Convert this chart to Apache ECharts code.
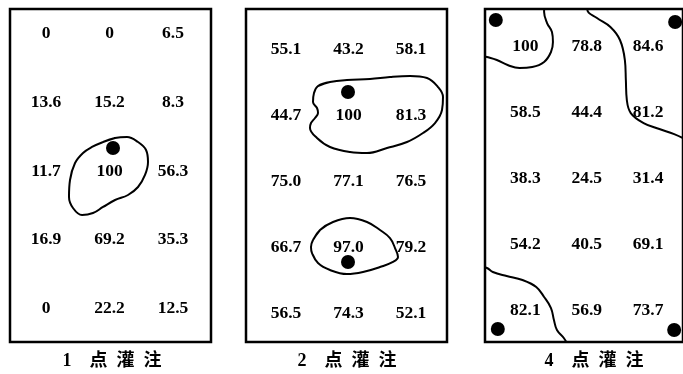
<!DOCTYPE html>
<html>
<head>
<meta charset="utf-8">
<script src="https://cdn.jsdelivr.net/npm/echarts/dist/echarts.min.js"></script>
<style>
  html, body { margin: 0; padding: 0; background: #fff; }
  #chart { width: 683px; height: 374px; }
</style>
</head>
<body>
<div id="chart"></div>
<script>
// Values printed in each 5 x 3 cell layout, listed row by row from the top.
const onePointValues = [
  ['0', '0', '6.5'],
  ['13.6', '15.2', '8.3'],
  ['11.7', '100', '56.3'],
  ['16.9', '69.2', '35.3'],
  ['0', '22.2', '12.5']
];
const twoPointValues = [
  ['55.1', '43.2', '58.1'],
  ['44.7', '100', '81.3'],
  ['75.0', '77.1', '76.5'],
  ['66.7', '97.0', '79.2'],
  ['56.5', '74.3', '52.1']
];
const fourPointValues = [
  ['100', '78.8', '84.6'],
  ['58.5', '44.4', '81.2'],
  ['38.3', '24.5', '31.4'],
  ['54.2', '40.5', '69.1'],
  ['82.1', '56.9', '73.7']
];

const captions = ['1 点灌注', '2 点灌注', '4 点灌注'];

// Gate locations, in cell units [column, row].
const onePointGates = [[1.055, 1.695]];
const twoPointGates = [[0.992, 0.672], [0.992, 3.255]];
const fourPointGates = [[-0.482, -0.366], [2.440, -0.336], [-0.449, 4.309], [2.424, 4.324]];

// Iso-lines, in cell units [column, row].
const onePointLoop = [
  [0.898, 1.608], [1.087, 1.549], [1.276, 1.535], [1.449, 1.608], [1.575, 1.724],
  [1.606, 1.898], [1.559, 2.087], [1.449, 2.262], [1.291, 2.378], [1.087, 2.451],
  [0.898, 2.552], [0.740, 2.640], [0.567, 2.669], [0.425, 2.567], [0.362, 2.407],
  [0.378, 2.160], [0.457, 1.913], [0.583, 1.767], [0.724, 1.680]
];
const twoPointUpperLoop = [
  [0.512, 0.581], [0.704, 0.520], [0.976, 0.489], [1.344, 0.474], [1.664, 0.444],
  [1.984, 0.429], [2.256, 0.459], [2.432, 0.596], [2.512, 0.748], [2.496, 0.945],
  [2.384, 1.143], [2.192, 1.295], [1.936, 1.432], [1.616, 1.523], [1.296, 1.599],
  [1.024, 1.584], [0.704, 1.508], [0.496, 1.371], [0.384, 1.219], [0.400, 1.143],
  [0.464, 1.067], [0.512, 0.991], [0.496, 0.915], [0.432, 0.824], [0.448, 0.687]
];
const twoPointLowerLoop = [
  [0.432, 2.921], [0.544, 2.769], [0.752, 2.647], [1.024, 2.587], [1.296, 2.647],
  [1.504, 2.769], [1.664, 2.891], [1.744, 3.043], [1.792, 3.179], [1.712, 3.255],
  [1.504, 3.331], [1.232, 3.407], [0.976, 3.438], [0.704, 3.377], [0.512, 3.271],
  [0.416, 3.119], [0.400, 3.027]
];
const fourPointTopLeft = [
  [0.305, -0.60], [0.305, -0.487], [0.353, -0.321], [0.433, -0.185], [0.449, -0.033],
  [0.417, 0.118], [0.305, 0.269], [0.112, 0.345], [-0.096, 0.360], [-0.289, 0.315],
  [-0.465, 0.239], [-0.626, 0.194], [-0.70, 0.178]
];
const fourPointTopRight = [
  [1.010, -0.60], [1.010, -0.517], [1.166, -0.396], [1.385, -0.260], [1.541, -0.064],
  [1.621, 0.239], [1.637, 0.542], [1.653, 0.844], [1.717, 1.041], [1.926, 1.192],
  [2.183, 1.283], [2.424, 1.359], [2.632, 1.449]
];
const fourPointBottomLeft = [
  [-0.738, 3.370], [-0.626, 3.385], [-0.530, 3.446], [-0.305, 3.507], [-0.048, 3.567],
  [0.177, 3.673], [0.305, 3.824], [0.417, 3.991], [0.465, 4.172], [0.514, 4.324],
  [0.626, 4.445], [0.706, 4.570]
];

// Frame boxes (px) and the cell-unit extents each frame spans.
const frames = [
  { left: 10,  top: 9, width: 201, height: 333, x: [-0.567, 2.598], y: [-0.326, 4.515], captionX: 112 },
  { left: 246, top: 9, width: 201, height: 333, x: [-0.640, 2.576], y: [-0.590, 4.471], captionX: 347 },
  { left: 485, top: 9, width: 201, height: 333, x: [-0.658, 2.568], y: [-0.533, 4.505], captionX: 594 }
];

const panels = [
  { values: onePointValues,  gates: onePointGates,  lines: [[...onePointLoop, onePointLoop[0], onePointLoop[1]]] },
  { values: twoPointValues,  gates: twoPointGates,  lines: [
      [...twoPointUpperLoop, twoPointUpperLoop[0], twoPointUpperLoop[1]],
      [...twoPointLowerLoop, twoPointLowerLoop[0], twoPointLowerLoop[1]]
    ] },
  { values: fourPointValues, gates: fourPointGates, lines: [fourPointTopLeft, fourPointTopRight, fourPointBottomLeft] }
];

const numberFont = {
  fontFamily: '"Liberation Serif", "DejaVu Serif", serif',
  fontWeight: 'bold',
  fontSize: 17.5,
  color: '#000',
  opacity: 1,
  offset: [0, 2]
};

// "1 点灌注" -> "1  点 灌 注" with wide spacing between characters
function spaced(text) {
  const [num, word] = text.split(' ');
  return num + '\u2003' + word.split('').join('\u2002');
}

const grid = [], xAxis = [], yAxis = [], series = [], graphic = [];

frames.forEach((f, i) => {
  grid.push({
    left: f.left, top: f.top, width: f.width, height: f.height,
    show: true, borderColor: '#000', borderWidth: 2.5, backgroundColor: 'transparent'
  });
  xAxis.push({ gridIndex: i, type: 'value', min: f.x[0], max: f.x[1], show: false });
  yAxis.push({ gridIndex: i, type: 'value', min: f.y[0], max: f.y[1], inverse: true, show: false });

  const p = panels[i];
  const cells = [];
  p.values.forEach((row, r) => row.forEach((txt, c) => {
    cells.push({ value: [c, r, Number(txt)], name: txt });
  }));

  series.push({
    type: 'scatter', xAxisIndex: i, yAxisIndex: i,
    symbol: 'circle', symbolSize: 1,
    itemStyle: { color: 'rgba(0,0,0,0)', opacity: 1 },
    label: Object.assign({ show: true, position: 'inside', formatter: '{b}' }, numberFont),
    emphasis: { disabled: true },
    data: cells, z: 3
  });

  p.lines.forEach(line => {
    series.push({
      type: 'line', xAxisIndex: i, yAxisIndex: i,
      data: line, smooth: 0.4, symbol: 'none', clip: true,
      lineStyle: { color: '#000', width: 2 }, z: 2
    });
  });

  series.push({
    type: 'scatter', xAxisIndex: i, yAxisIndex: i,
    symbol: 'circle', symbolSize: 14,
    itemStyle: { color: '#000', opacity: 1 },
    emphasis: { disabled: true },
    data: p.gates, z: 4
  });

  graphic.push({
    type: 'text', x: f.captionX, y: 361,
    style: {
      text: spaced(captions[i]),
      align: 'center', verticalAlign: 'middle',
      font: 'bold 18px "Liberation Serif", "Noto Sans CJK SC", sans-serif',
      fill: '#000'
    }
  });
});

const chart = echarts.init(document.getElementById('chart'), null, { renderer: 'canvas' });
chart.setOption({
  animation: false,
  backgroundColor: '#fff',
  grid, xAxis, yAxis, series, graphic
});
</script>
</body>
</html>
